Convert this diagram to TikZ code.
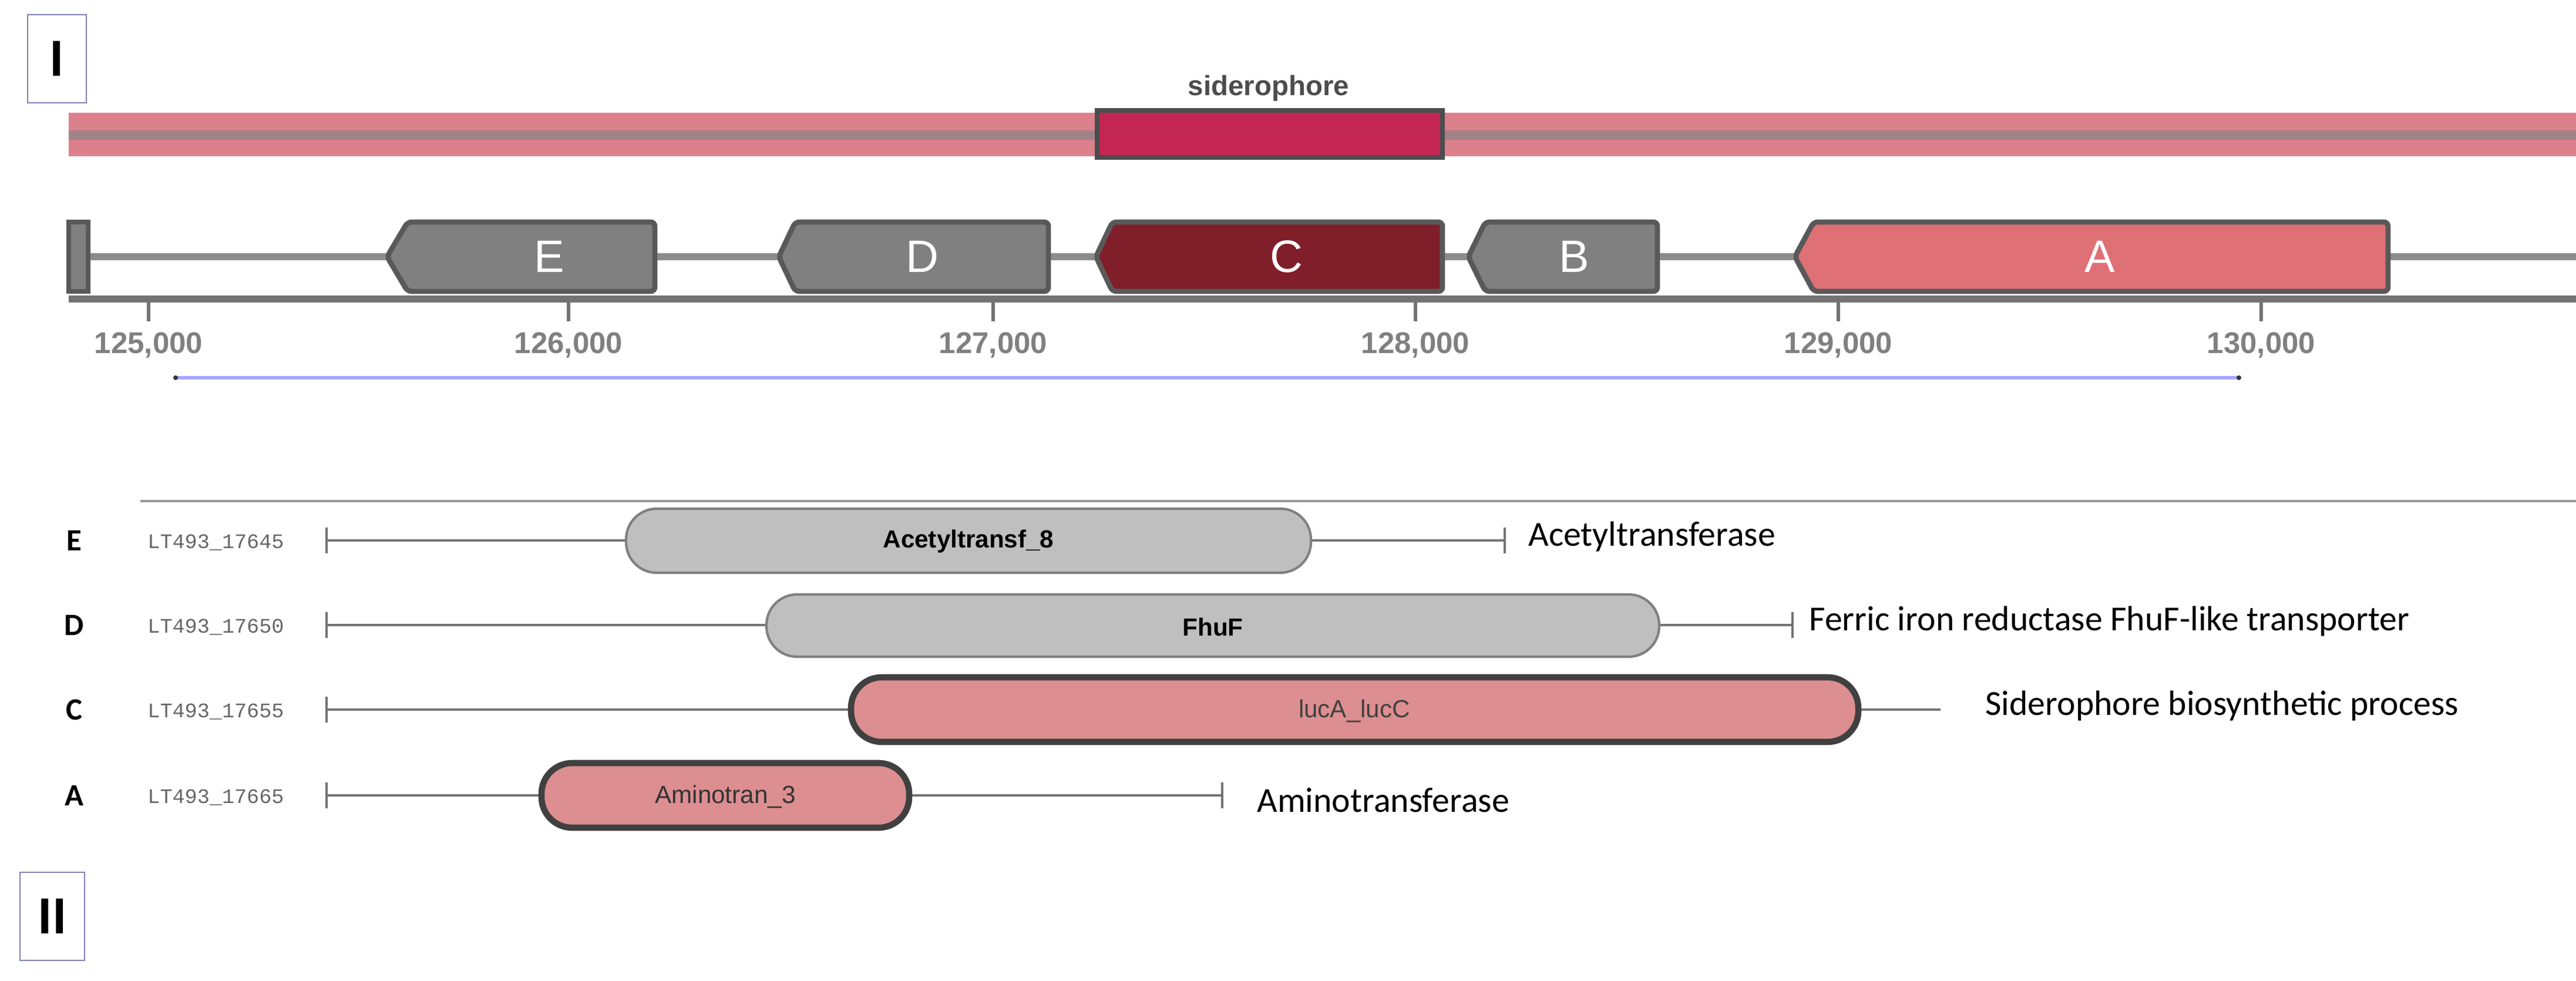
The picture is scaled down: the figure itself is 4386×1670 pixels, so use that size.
\documentclass[tikz,border=0pt]{standalone}
\usepackage{fontspec}
\setmainfont{Liberation Sans}
\newfontfamily\calfont{Carlito}
\newfontfamily\monofnt{Liberation Mono}
\begin{document}
\begin{tikzpicture}[x=0.01cm,y=-0.01cm,
  genebox/.style={draw=black!65,line width=2.5pt,rounded corners=2pt},
  pillgray/.style={fill=black!25,draw=black!50,line width=1.2pt,rounded corners=0.52cm},
  pillpink/.style={fill=pinkp,draw=black!75,line width=3pt,rounded corners=0.52cm},
  rowline/.style={draw=black!55,line width=1.2pt},
  letter/.style={text=white,font=\fontsize{22}{24}\selectfont},
  ticklab/.style={text=black!50,font=\bfseries\fontsize{14.5}{16}\selectfont},
  locus/.style={text=black!60,font=\monofnt\fontsize{10}{12}\selectfont,anchor=west},
  func/.style={font=\calfont\fontsize{17}{20}\selectfont,anchor=west},
  rowlet/.style={font=\calfont\bfseries\fontsize{15}{18}\selectfont},
  roman/.style={draw=blue!40!black!50,line width=0.8pt,minimum width=1cm,minimum height=1.5cm,font=\calfont\bfseries\fontsize{26}{28}\selectfont}]
\definecolor{bandpink}{RGB}{220,128,140}
\definecolor{bandmid}{RGB}{160,130,135}
\definecolor{sidero}{RGB}{195,38,82}
\definecolor{geneC}{RGB}{128,30,42}
\definecolor{geneA}{RGB}{222,112,118}
\definecolor{geneG}{RGB}{128,128,128}
\definecolor{pinkp}{RGB}{220,142,144}
\useasboundingbox (0,0) rectangle (4386,1670);
% Section I
\node[roman] (romI) at (97,100) {I};
\fill[bandpink] (117,192) rectangle (4386,266);
\fill[bandmid] (117,222) rectangle (4386,238);
\draw[fill=sidero,draw=black!70,line width=2.5pt] (1868,188) rectangle (2456,268);
\node[font=\bfseries\fontsize{13.5}{15}\selectfont,text=black!70] (sidlab) at (2160,150) {siderophore};
% backbone
\draw[black!45,line width=3.5pt] (117,437) -- (4386,437);
% genes
\fill[geneG,draw=black!65,line width=2pt] (117,378) rectangle (150,496);
\draw[genebox,fill=geneG] (659,437) -- (694,378) -- (1115,378) -- (1115,496) -- (694,496) -- cycle;
\draw[genebox,fill=geneG] (1326,437) -- (1354,378) -- (1785,378) -- (1785,496) -- (1354,496) -- cycle;
\draw[genebox,fill=geneC] (1866,437) -- (1894,378) -- (2456,378) -- (2456,496) -- (1894,496) -- cycle;
\draw[genebox,fill=geneG] (2500,437) -- (2529,378) -- (2822,378) -- (2822,496) -- (2529,496) -- cycle;
\draw[genebox,fill=geneA] (3056,437) -- (3088,378) -- (4066,378) -- (4066,496) -- (3088,496) -- cycle;
\node[letter] (gE) at (935,437) {E};
\node[letter] (gD) at (1570,437) {D};
\node[letter] (gC) at (2190,437) {C};
\node[letter] (gB) at (2680,437) {B};
\node[letter] (gA) at (3575,437) {A};
% axis
\draw[black!55,line width=3.5pt] (117,509) -- (4386,509);
\foreach \x/\l in {253/125,968/126,1691/127,2410/128,3130/129,3850/130}{
  \draw[black!55,line width=1.5pt] (\x,513) -- (\x,547);
  \node[ticklab] at (\x,588) {\l,000};
}
\draw[blue!35,line width=1.5pt] (299,643) -- (3812,643);
\fill[black!80] (299,643) circle (4);
\fill[black!80] (3812,643) circle (4);
% Section II
\draw[black!40,line width=1pt] (239,853) -- (4386,853);
% row E
\node[rowlet] (lE) at (126,920) {E};
\node[locus] (idE) at (239,924) {LT493\_17645};
\draw[rowline] (556,898) -- (556,942);
\draw[rowline] (2562,898) -- (2562,942);
\draw[rowline] (556,920) -- (2562,920);
\draw[pillgray] (1066,866) rectangle (2232,975);
\node[font=\bfseries\fontsize{12}{14}\selectfont] (pE) at (1649,922) {Acetyltransf\_8};
\node[func] (fE) at (2590,914) {Acetyltransferase};
% row D
\node[rowlet] (lD) at (126,1064) {D};
\node[locus] (idD) at (239,1068) {LT493\_17650};
\draw[rowline] (556,1042) -- (556,1086);
\draw[rowline] (3052,1042) -- (3052,1086);
\draw[rowline] (556,1064) -- (3052,1064);
\draw[pillgray] (1305,1012) rectangle (2825,1118);
\node[font=\bfseries\fontsize{12}{14}\selectfont] (pD) at (2065,1067) {FhuF};
\node[func] (fD) at (3068,1058) {Ferric iron reductase FhuF-like transporter};
% row C
\node[rowlet] (lC) at (126,1208) {C};
\node[locus] (idC) at (239,1212) {LT493\_17655};
\draw[rowline] (556,1186) -- (556,1230);
\draw[rowline] (556,1208) -- (3304,1208);
\draw[pillpink] (1449,1153) rectangle (3164,1263);
\node[font=\fontsize{12}{14}\selectfont,text=black!75] (pC) at (2306,1210) {lucA\_lucC};
\node[func] (fC) at (3368,1202) {Siderophore biosynthetic process};
% row A
\node[rowlet] (lA) at (126,1354) {A};
\node[locus] (idA) at (239,1358) {LT493\_17665};
\draw[rowline] (556,1332) -- (556,1376);
\draw[rowline] (2081,1332) -- (2081,1376);
\draw[rowline] (556,1354) -- (2081,1354);
\draw[pillpink] (922,1299) rectangle (1548,1409);
\node[font=\fontsize{12}{14}\selectfont,text=black!80] (pA) at (1235,1356) {Aminotran\_3};
\node[func] (fA) at (2128,1362) {Aminotransferase};
\node[roman,minimum width=1.1cm] (romII) at (89,1560) {II};
\end{tikzpicture}
\end{document}
